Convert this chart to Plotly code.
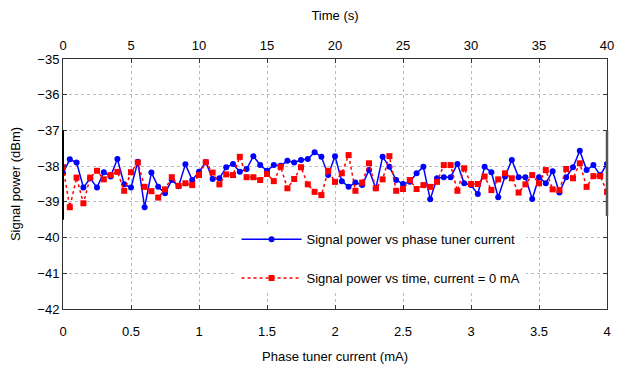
import plotly.graph_objects as go

current_mA = [round(i * 0.05, 2) for i in range(81)]
time_s = [round(i * 0.5, 1) for i in range(81)]

power_vs_current = [
    -38.20, -37.81, -37.90, -38.60, -38.34, -38.60, -38.17, -38.29, -37.80, -38.51,
    -38.60, -37.88, -39.15, -38.18, -38.58, -38.76, -38.39, -38.56, -37.95, -38.39,
    -38.16, -37.89, -38.36, -38.34, -38.03, -37.94, -38.16, -38.08, -37.72, -37.97,
    -38.13, -37.97, -37.99, -37.85, -37.90, -37.83, -37.80, -37.61, -37.74, -38.25,
    -37.72, -38.42, -38.58, -38.46, -38.53, -38.11, -38.62, -37.74, -38.02, -38.39,
    -38.50, -38.44, -38.20, -38.02, -38.93, -38.34, -38.31, -38.31, -37.94, -38.48,
    -38.53, -38.78, -38.02, -38.17, -38.87, -38.29, -37.83, -38.31, -38.31, -38.92,
    -38.31, -38.48, -38.14, -38.74, -38.31, -38.03, -37.57, -38.11, -37.97, -38.25,
    -37.94,
]

power_vs_time = [
    -38.03, -39.15, -38.32, -39.04, -38.32, -38.13, -38.37, -38.25, -38.16, -38.69,
    -38.17, -37.90, -38.58, -38.70, -38.88, -38.65, -38.31, -38.55, -38.48, -38.53,
    -38.25, -37.89, -38.18, -38.51, -38.23, -38.25, -37.74, -38.31, -38.31, -38.39,
    -38.22, -38.42, -38.02, -38.62, -38.36, -38.03, -38.51, -38.72, -38.81, -38.13,
    -38.44, -38.20, -37.69, -38.69, -38.46, -37.92, -38.62, -38.37, -37.72, -38.69,
    -38.64, -38.39, -38.64, -38.53, -38.58, -38.44, -37.97, -37.97, -38.69, -38.06,
    -38.50, -38.50, -38.29, -38.67, -38.37, -38.20, -38.34, -38.74, -38.51, -38.25,
    -38.48, -38.11, -38.65, -38.67, -38.08, -38.34, -37.92, -38.58, -38.28, -38.28,
    -38.72,
]

current_ticks = [0, 0.5, 1, 1.5, 2, 2.5, 3, 3.5, 4]
time_ticks = [0, 5, 10, 15, 20, 25, 30, 35, 40]
power_ticks = [-42, -41, -40, -39, -38, -37, -36, -35]

FONT = "Liberation Sans, Arial, sans-serif"

fig = go.Figure()
fig.add_trace(go.Scatter(
    x=current_mA, y=power_vs_current, mode="lines+markers",
    name="Signal power vs phase tuner current",
    line=dict(color="#0000ff", width=1.5),
    marker=dict(symbol="circle", size=6, color="#0000ff"),
    legendgroup="a",
))
fig.add_trace(go.Scatter(
    x=time_s, y=power_vs_time, mode="lines+markers", xaxis="x2",
    name="Signal power vs time, current = 0 mA",
    line=dict(color="#ff0000", width=1.5, dash="dot"),
    marker=dict(symbol="square", size=6, color="#ff0000"),
    legendgroup="b",
))

axis_common = dict(
    showline=True, linecolor="#333333", linewidth=1,
    ticks="inside", ticklen=4, tickcolor="#333333",
    gridcolor="#bbbbbb", griddash="dot", gridwidth=1,
    zeroline=False, tickfont=dict(family=FONT, size=13, color="#000000"),
    automargin=False,
)

fig.update_layout(
    width=607, height=356,
    margin=dict(l=55, r=8, t=51, b=55),
    paper_bgcolor="white", plot_bgcolor="white",
    font=dict(family=FONT, size=13, color="#000000"),
    xaxis=dict(
        range=[0, 4], tickvals=current_ticks, showgrid=True, ticklabelstandoff=10,
        ticklabeloverflow="allow",
        title=dict(text="Phase tuner current (mA)", font=dict(family=FONT, size=13), standoff=17),
        **axis_common,
    ),
    xaxis2=dict(
        range=[0, 40], tickvals=time_ticks, overlaying="x", side="top", showgrid=False,
        ticklabelstandoff=3, ticklabeloverflow="allow",
        title=dict(text="Time (s)", font=dict(family=FONT, size=13), standoff=16),
        **axis_common,
    ),
    yaxis=dict(
        range=[-42, -35], tickvals=power_ticks, showgrid=True,
        title=dict(text="Signal power (dBm)", font=dict(family=FONT, size=13)),
        mirror="ticks", **axis_common,
    ),
    legend=dict(
        x=0.319, y=0.339, xanchor="left", yanchor="top",
        bgcolor="white", borderwidth=0,
        font=dict(family=FONT, size=13, color="#000000"),
        traceorder="grouped", tracegroupgap=19, itemwidth=60,
    ),
    showlegend=True,
    shapes=[
        dict(type="line", xref="paper", yref="y", x0=0, x1=0, y0=-37, y1=-39.5,
             line=dict(color="#000000", width=2)),
        dict(type="line", xref="paper", yref="y", x0=1, x1=1, y0=-37, y1=-39.4,
             line=dict(color="#555555", width=2.5)),
    ],
)

fig.write_html("out.html")
